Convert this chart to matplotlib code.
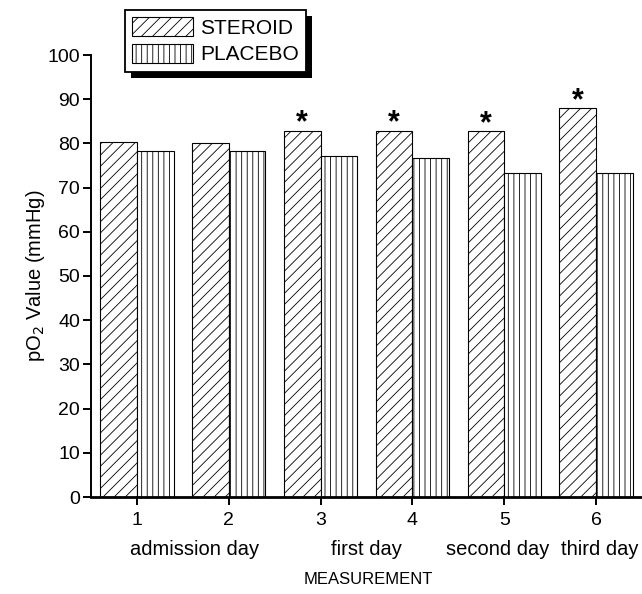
import numpy as np
import matplotlib
matplotlib.use('Agg')
import matplotlib.pyplot as plt
import matplotlib.transforms as mtransforms
from matplotlib.patches import Rectangle

plt.rcParams['font.family'] = ['Liberation Sans', 'DejaVu Sans']
plt.rcParams['hatch.linewidth'] = 0.6

measurement = [1, 2, 3, 4, 5, 6]
steroid = [80.3, 80.0, 82.9, 82.9, 82.7, 88.0]
placebo = [78.3, 78.3, 77.1, 76.6, 73.4, 73.2]
significant = [False, False, True, True, True, True]
day_labels = ['admission day', 'first day', 'second day', 'third day']
day_label_x = [1.63, 3.5, 4.93, 6.04]

barWidth = 0.4

fig = plt.figure(figsize=(6.42, 5.94), dpi=100)
ax = fig.add_axes([91 / 642, 97 / 594, 551 / 642, 442 / 594])

x = np.array(measurement)
ax.bar(x - barWidth / 2, steroid, width=barWidth, color='white', edgecolor='black',
       linewidth=0.8, hatch='///', label='STEROID')
ax.bar(x + barWidth / 2, placebo, width=barWidth, color='white', edgecolor='black',
       linewidth=0.8, hatch='|||', label='PLACEBO')

# asterisks over the significant steroid bars
for xi, val, sig in zip(x, steroid, significant):
    if sig:
        ax.text(xi - barWidth / 2, val + 1.6, '*', ha='center', va='center',
                fontsize=22, fontweight='bold')

ax.set_xlim(0.5, 6.5)
ax.set_ylim(0, 100)
ax.set_yticks(np.arange(0, 101, 10))
ax.set_xticks(measurement)
ax.spines['top'].set_visible(False)
ax.spines['right'].set_visible(False)
ax.spines['left'].set_linewidth(1.4)
ax.spines['bottom'].set_linewidth(2.0)
ax.tick_params(axis='both', direction='out', length=6, width=1.4, labelsize=14)
ax.tick_params(axis='y', pad=2)
ax.tick_params(axis='x', pad=5)

trans = mtransforms.blended_transform_factory(ax.transData, ax.transAxes)
for lab, lx in zip(day_labels, day_label_x):
    ax.text(lx, -0.118, lab, transform=trans, ha='center', va='center', fontsize=14.5)

ax.set_ylabel('pO$_2$ Value (mmHg)', fontsize=14.5, labelpad=0)
fig.text(368 / 642, 1 - 579 / 594, 'MEASUREMENT', ha='center', va='center', fontsize=12)

leg = ax.legend(loc='upper left', bbox_to_anchor=(125 / 642, 1 - 10 / 594),
                bbox_transform=fig.transFigure, borderaxespad=0, fancybox=False,
                framealpha=1, edgecolor='black', fontsize=15, handlelength=2.9,
                handleheight=1.0, handletextpad=0.35, labelspacing=0.3,
                borderpad=0.35)
leg.get_frame().set_linewidth(1.3)
leg.set_zorder(6)

# solid drop shadow behind the legend box
fig.canvas.draw()
bb = leg.get_window_extent().transformed(fig.transFigure.inverted())
shadow = Rectangle((bb.x0 + 6 / 642, bb.y0 - 6 / 594), bb.width, bb.height,
                   transform=fig.transFigure, facecolor='black', edgecolor='none',
                   zorder=5.5, clip_on=False)
ax.add_artist(shadow)

fig.savefig('out.png', dpi=100)
